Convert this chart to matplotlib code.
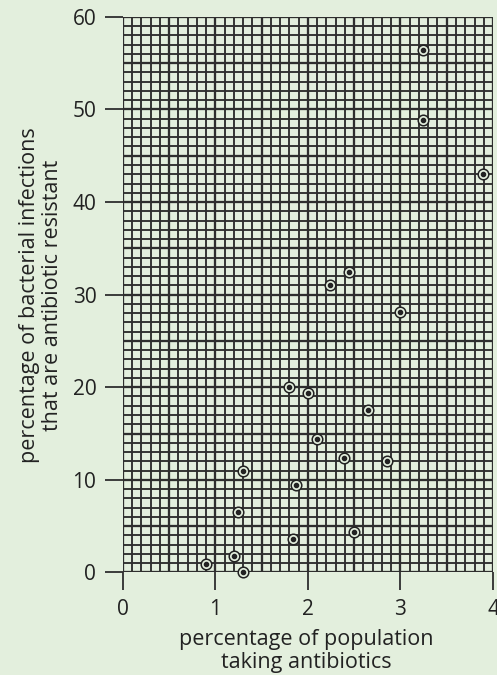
import numpy as np
import matplotlib.pyplot as plt

# data
antibiotic_use = [0.90, 1.20, 1.30, 1.25, 1.84, 1.30, 1.87, 2.10, 2.00, 1.80,
                  2.39, 2.85, 2.50, 2.65, 3.00, 2.24, 2.44, 3.89, 3.24, 3.24]
resistant_pct = [0.9, 1.8, 0.0, 6.5, 3.6, 10.9, 9.4, 14.4, 19.4, 20.0,
                 12.4, 12.0, 4.4, 17.5, 28.1, 31.0, 32.4, 43.0, 48.9, 56.4]
x_ticks = [0, 1, 2, 3, 4]
y_ticks = [0, 10, 20, 30, 40, 50, 60]

bg = '#e3efdd'
ink = '#2e2e2e'
txt = '#222222'

plt.rcParams['font.family'] = ['Open Sans', 'DejaVu Sans']

fig = plt.figure(figsize=(4.97, 6.75), dpi=100, facecolor=bg)
ax = fig.add_axes([0.247, 0.152, 0.745, 0.823])
ax.set_facecolor(bg)

ax.set_xlim(0, 4)
ax.set_ylim(0, 60)

# graph paper grid
for xv in np.arange(0, 4.0001, 0.1):
    k = int(round(xv * 10))
    ax.axvline(xv, color=ink, lw=1.65 if k % 5 == 0 else 1.35, zorder=1)
for yv in range(0, 61):
    ax.axhline(yv, color=ink, lw=1.65 if yv % 5 == 0 else 1.35, zorder=1)

for s in ax.spines.values():
    s.set_visible(False)

ax.set_xticks(x_ticks)
ax.set_yticks(y_ticks)
ax.tick_params(axis='both', length=13, width=1.3, color=ink, labelsize=15,
               labelcolor=txt, pad=6)

# points: open circle with a dot inside
ax.scatter(antibiotic_use, resistant_pct, s=58, facecolors=bg,
           edgecolors=txt, linewidths=1.1, zorder=3, clip_on=False)
ax.scatter(antibiotic_use, resistant_pct, s=9, color=txt, zorder=4,
           clip_on=False)

# axis titles placed in figure coordinates
fig.text(0.617, 0.0355, 'percentage of population\ntaking antibiotics',
         ha='center', va='center', fontsize=15.5, color=txt, linespacing=1.15)
fig.text(0.082, 0.563, 'percentage of bacterial infections\nthat are antibiotic resistant',
         ha='center', va='center', rotation=90, fontsize=15.5, color=txt,
         linespacing=1.15)

fig.savefig('out.png', dpi=100, facecolor=bg)
